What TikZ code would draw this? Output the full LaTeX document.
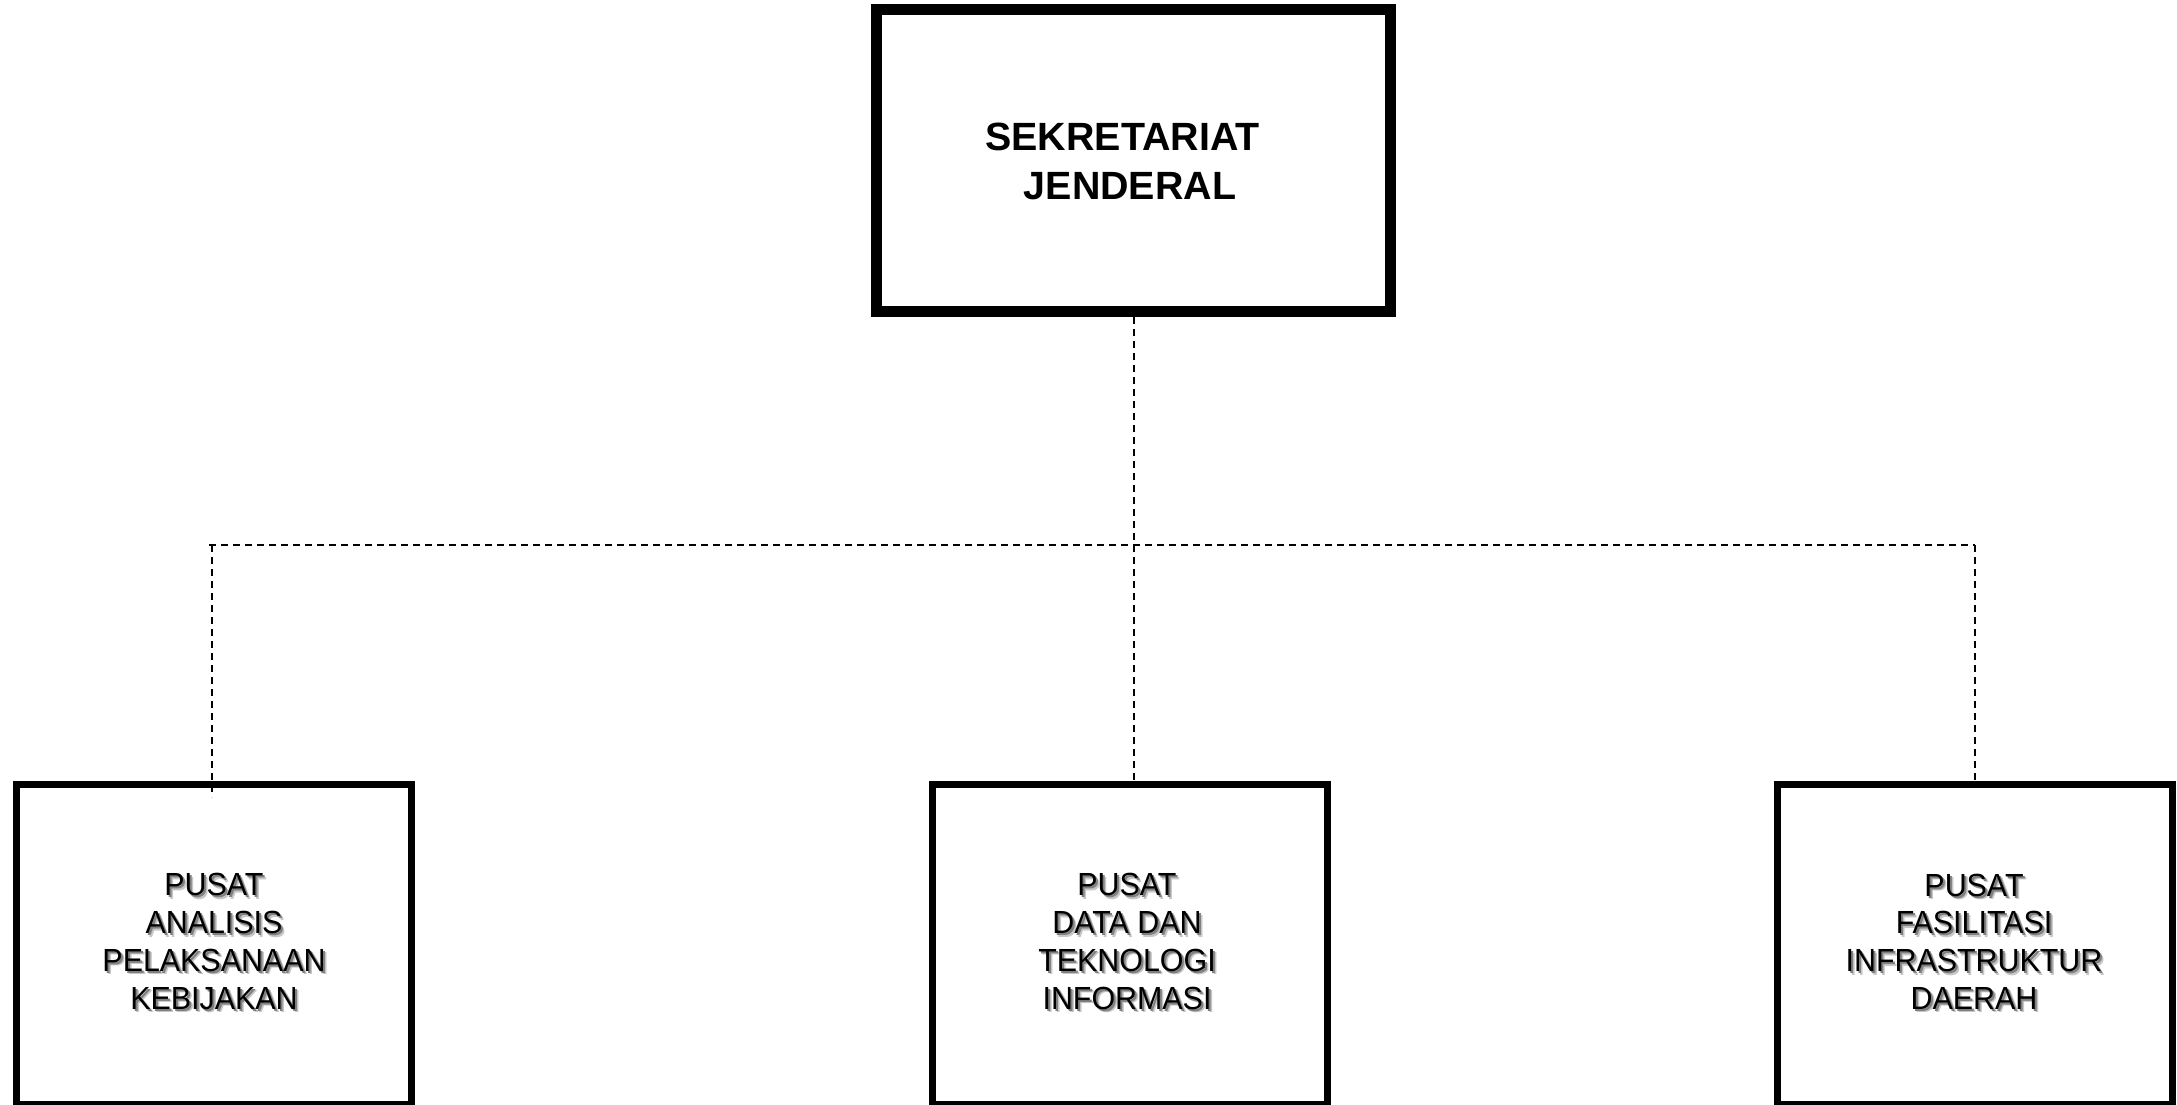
\documentclass[tikz,border=0pt]{standalone}
\usepackage{fontspec}
\setmainfont{Liberation Sans}
\newfontfamily\unitfont[FakeStretch=0.95]{Liberation Sans}
\begin{document}
\begin{tikzpicture}[x=0.5pt,y=-0.5pt,
  headbox/.style={draw, line width=5.5pt, minimum width=257pt, minimum height=151pt, inner sep=0pt},
  unitbox/.style={draw, line width=3.5pt, minimum width=197.5pt, minimum height=160pt, inner sep=0pt},
  headtext/.style={font=\fontsize{19.7}{24.5}\selectfont\bfseries, align=center, inner sep=0pt},
  unittext/.style={font=\unitfont\fontsize{16}{18.85}\selectfont, align=center, inner sep=0pt},
  unitshade/.style={unittext, text=black!50},
  unithaze/.style={unittext, text=black!22},
  link/.style={line width=1pt, dash pattern=on 3.5pt off 2.5pt}]
\useasboundingbox (0,0) rectangle (2177,1104);
\clip (0,0) rectangle (2177,1104);

% boxes
\node[headbox] (sekjen) at (1133.5,160.5) {};
\node[unitbox] (pa) at (214,944) {};
\node[unitbox] (pd) at (1130,944) {};
\node[unitbox] (pf) at (1974.5,944) {};

% dashed reporting lines
\coordinate (busL) at (209,545);
\coordinate (busR) at (1975,545);
\coordinate (dropL) at (212,545);
\coordinate (tailL) at (212,797);
\draw[link] (busL) -- (busR);
\draw[link] (sekjen.south) -- (sekjen.south |- pd.north);
\draw[link] (dropL) -- (tailL);
\draw[link] (busR) -- (busR |- pf.north);

% labels
\node[headtext] (sekjen-label) at (1122.5,161) {SEKRETARIAT\\\hspace*{7.5pt}JENDERAL};

\node[unithaze] (pa-haze) at (217.5,945) {PUSAT\\ANALISIS\\PELAKSANAAN\\KEBIJAKAN};
\node[unitshade] (pa-shade) at (216,943.5) {PUSAT\\ANALISIS\\PELAKSANAAN\\KEBIJAKAN};
\node[unittext] (pa-label) at (214,941.5) {PUSAT\\ANALISIS\\PELAKSANAAN\\KEBIJAKAN};

\node[unithaze] (pd-haze) at (1130.5,945) {PUSAT\\DATA DAN\\TEKNOLOGI\\INFORMASI};
\node[unitshade] (pd-shade) at (1129,943.5) {PUSAT\\DATA DAN\\TEKNOLOGI\\INFORMASI};
\node[unittext] (pd-label) at (1127,941.5) {PUSAT\\DATA DAN\\TEKNOLOGI\\INFORMASI};

\node[unithaze] (pf-haze) at (1977.5,945) {PUSAT\\FASILITASI\\INFRASTRUKTUR\\DAERAH};
\node[unitshade] (pf-shade) at (1976,943.5) {PUSAT\\FASILITASI\\INFRASTRUKTUR\\DAERAH};
\node[unittext] (pf-label) at (1974,941.5) {PUSAT\\FASILITASI\\INFRASTRUKTUR\\DAERAH};
\end{tikzpicture}
\end{document}
